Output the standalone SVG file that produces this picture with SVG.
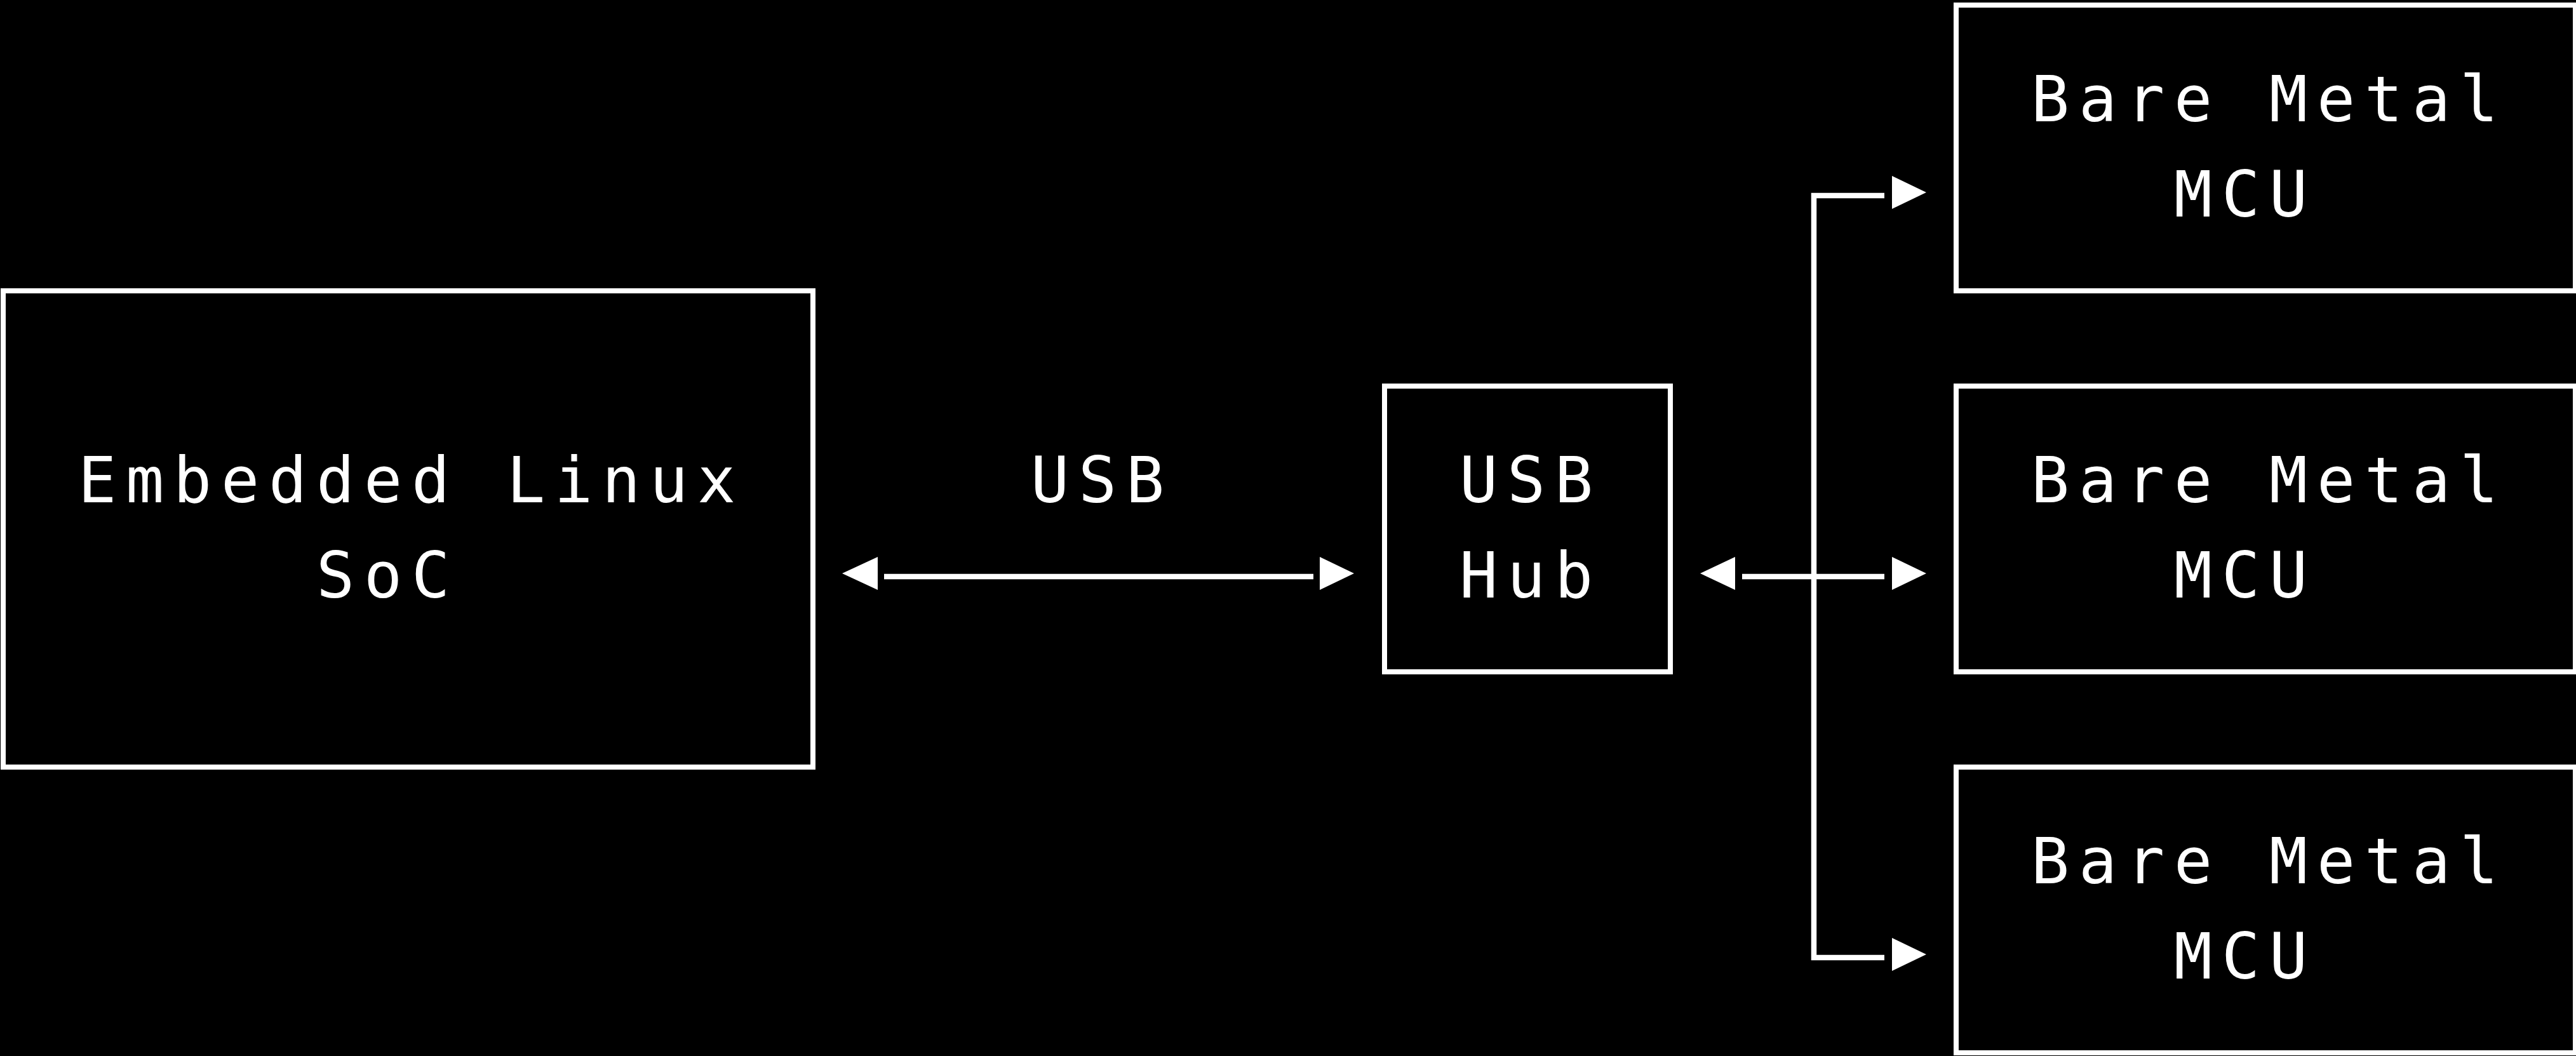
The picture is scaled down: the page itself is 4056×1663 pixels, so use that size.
<svg xmlns="http://www.w3.org/2000/svg" width="4056" height="1663" viewBox="0 0 4056 1663">
<style>
.box{fill:#000;stroke:#fff;stroke-width:8}
.t{font-family:"DejaVu Sans Mono","Liberation Mono",monospace;font-size:100px;letter-spacing:14.8px;fill:#fff}
.ln{fill:none;stroke:#fff;stroke-width:8.5;stroke-linejoin:miter;stroke-linecap:butt}
.ah{fill:#fff}
</style>
<rect x="0" y="0" width="4056" height="1663" fill="#000"/>
<g id="soc">
<rect class="box" x="5" y="458" width="1275" height="750"/>
<text class="t" x="122.9" y="791">Embedded Linux</text>
<text class="t" x="497.9" y="941">SoC</text>
</g>
<g id="hub">
<rect class="box" x="2180" y="608" width="450" height="450"/>
<text class="t" x="2297.9" y="791">USB</text>
<text class="t" x="2297.9" y="941">Hub</text>
</g>
<g id="mcu1">
<rect class="box" x="3080" y="8" width="975" height="450"/>
<text class="t" x="3197.9" y="191">Bare Metal</text>
<text class="t" x="3422.9" y="341">MCU</text>
</g>
<g id="mcu2">
<rect class="box" x="3080" y="608" width="975" height="450"/>
<text class="t" x="3197.9" y="791">Bare Metal</text>
<text class="t" x="3422.9" y="941">MCU</text>
</g>
<g id="mcu3">
<rect class="box" x="3080" y="1208" width="975" height="450"/>
<text class="t" x="3197.9" y="1391">Bare Metal</text>
<text class="t" x="3422.9" y="1541">MCU</text>
</g>
<g id="connectors">
<text class="t" x="1622.9" y="791">USB</text>
<path class="ln" d="M1392,908 H2068"/>
<polygon class="ah" points="1326,903 1382,877 1382,929"/>
<polygon class="ah" points="2132,903 2078,877 2078,929"/>
<path class="ln" d="M2743,908 H2967"/>
<polygon class="ah" points="2677,903 2732,877 2732,929"/>
<polygon class="ah" points="3033,903 2979,877 2979,929"/>
<path class="ln" d="M2967,308 H2856 V1508 H2967"/>
<polygon class="ah" points="3033,303 2979,277 2979,329"/>
<polygon class="ah" points="3033,1503 2979,1477 2979,1529"/>
</g>
</svg>
